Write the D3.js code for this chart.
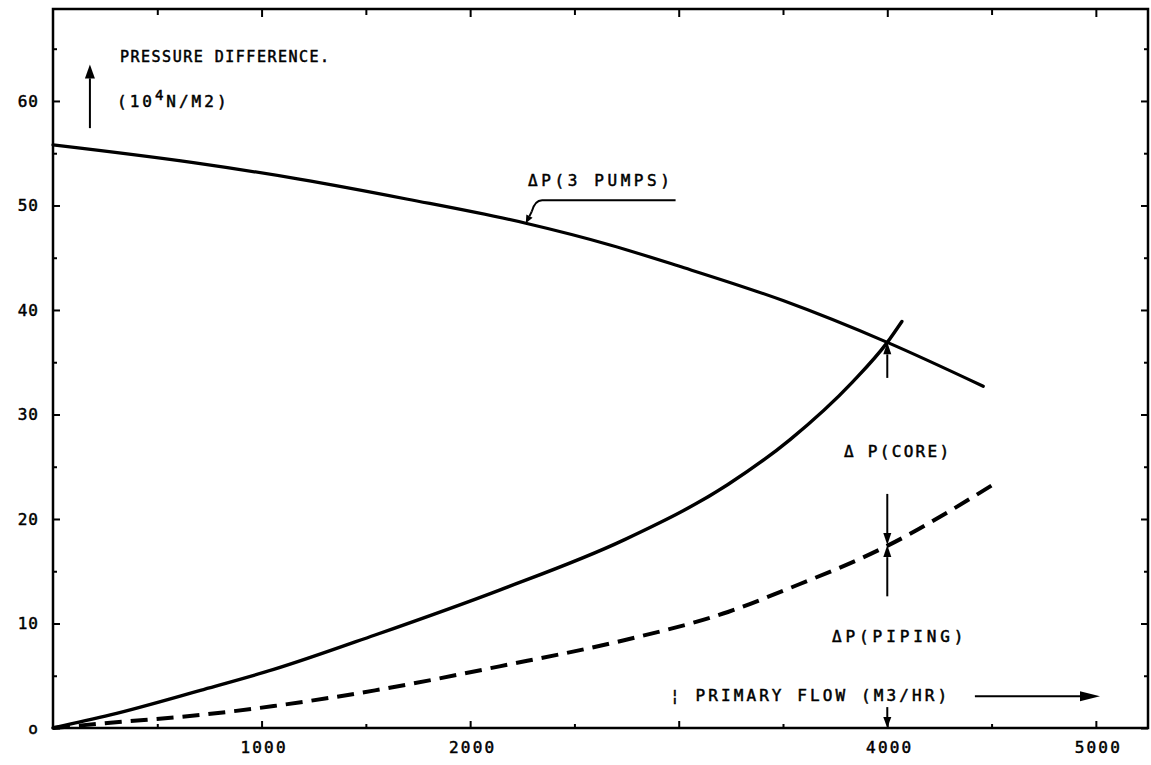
<!DOCTYPE html>
<html>
<head>
<meta charset="utf-8">
<script src="https://cdn.jsdelivr.net/npm/d3@7"></script>
<style>
  body { margin: 0; background: #fff; }
  text { font-family: "DejaVu Sans Mono", monospace; fill: #000; stroke: #000; stroke-width: 0.5; }
</style>
</head>
<body>
<div id="chart"></div>
<script>
// pump head curve (3 pumps)
const flowPump = [0, 673, 1187, 1701, 2267, 2675, 3000, 3500, 4000, 4460];
const dpPump = [55.8, 54.1, 52.5, 50.6, 48.3, 46.2, 44.2, 40.9, 36.9, 32.7];
// core + piping system curve
const flowCore = [0, 275, 707, 1058, 1544, 2141, 2738, 3236, 3534, 3833, 4000, 4070];
const dpCore = [0, 1.25, 3.6, 5.6, 8.9, 13.2, 18.0, 23.3, 27.6, 33.1, 36.9, 38.9];
// piping only (dashed)
const flowPiping = [0, 275, 707, 1058, 1544, 2141, 2738, 3236, 3534, 3992, 4508];
const dpPiping = [0, 0.5, 1.25, 2.1, 3.6, 5.9, 8.4, 11.1, 13.4, 17.35, 23.3];

const xLabelTicks = [1000, 2000, 4000, 5000];
const yLabelTicks = [0, 10, 20, 30, 40, 50, 60];

const W = 1151, H = 765;
const m = { left: 53, right: 1148, top: 9, bottom: 728 };

const svg = d3.select('#chart').append('svg')
  .attr('width', W)
  .attr('height', H);

const x = d3.scaleLinear().domain([0, 5250]).range([m.left, m.right]);
const y = d3.scaleLinear().domain([0, 68.8]).range([m.bottom, m.top]);

const xMajor = d3.range(1000, 5001, 1000);
const xMinor = d3.range(500, 5001, 1000);
const yMajor = d3.range(0, 61, 10);
const yMinor = d3.range(5, 66, 10);

function tickAxis(axisFn, scale, values, size, tr) {
  const g = svg.append('g')
    .attr('transform', tr)
    .call(axisFn(scale).tickValues(values).tickSize(size).tickFormat(''));
  g.select('.domain').remove();
  g.selectAll('line').attr('stroke', '#000').attr('stroke-width', 2);
  return g;
}

// ticks, all pointing inward
tickAxis(d3.axisBottom, x, xMajor, -7, `translate(0,${m.bottom})`);
tickAxis(d3.axisBottom, x, xMinor, -4, `translate(0,${m.bottom})`);
tickAxis(d3.axisTop, x, xMajor, -8, `translate(0,${m.top})`);
tickAxis(d3.axisTop, x, xMinor, -6, `translate(0,${m.top})`);
tickAxis(d3.axisLeft, y, yMajor, -7, `translate(${m.left},0)`);
tickAxis(d3.axisLeft, y, yMinor, -4, `translate(${m.left},0)`);
tickAxis(d3.axisRight, y, yMajor, -7, `translate(${m.right},0)`);
tickAxis(d3.axisRight, y, yMinor, -4, `translate(${m.right},0)`);

// frame
svg.append('rect')
  .attr('x', m.left).attr('y', m.top)
  .attr('width', m.right - m.left).attr('height', m.bottom - m.top)
  .attr('fill', 'none').attr('stroke', '#000').attr('stroke-width', 2.5);

// tick labels
const xl = svg.append('g')
  .attr('transform', `translate(0,${m.bottom})`)
  .call(d3.axisBottom(x).tickValues(xLabelTicks).tickSize(0).tickPadding(14).tickFormat(d3.format('d')));
xl.select('.domain').remove();
xl.selectAll('text').attr('font-size', 16).attr('letter-spacing', 2.2)
  .attr('font-family', 'DejaVu Sans').attr('dx', 2);

const yl = svg.append('g')
  .attr('transform', `translate(${m.left},0)`)
  .call(d3.axisLeft(y).tickValues(yLabelTicks).tickSize(0).tickPadding(14).tickFormat(d => d === 0 ? 'o' : d));
yl.select('.domain').remove();
yl.selectAll('text').attr('font-size', 16).attr('letter-spacing', 1)
  .attr('font-family', 'DejaVu Sans');

// curves
const line = d3.line().curve(d3.curveMonotoneX);

svg.append('path')
  .attr('d', line(flowPump.map((f, i) => [x(f), y(dpPump[i])])))
  .attr('fill', 'none').attr('stroke', '#000').attr('stroke-width', 3.2)
  .attr('stroke-linecap', 'round');

svg.append('path')
  .attr('d', line(flowCore.map((f, i) => [x(f), y(dpCore[i])])))
  .attr('fill', 'none').attr('stroke', '#000').attr('stroke-width', 3.4)
  .attr('stroke-linecap', 'round');

svg.append('path')
  .attr('d', line(flowPiping.map((f, i) => [x(f), y(dpPiping[i])])))
  .attr('fill', 'none').attr('stroke', '#000').attr('stroke-width', 4)
  .attr('stroke-dasharray', '17,9');

// arrows
function arrow(x1, y1, x2, y2, head, width) {
  head = head || 12;
  width = width || 4;
  const dx = x2 - x1, dy = y2 - y1;
  const len = Math.sqrt(dx * dx + dy * dy);
  const ux = dx / len, uy = dy / len;
  const bx = x2 - ux * head, by = y2 - uy * head;
  svg.append('line')
    .attr('x1', x1).attr('y1', y1).attr('x2', bx).attr('y2', by)
    .attr('stroke', '#000').attr('stroke-width', 2);
  svg.append('path')
    .attr('d', `M${x2},${y2}L${bx - uy * width},${by + ux * width}L${bx + uy * width},${by - ux * width}Z`)
    .attr('fill', '#000');
}

// y axis title arrow
arrow(x(177), y(57.4), x(177), y(63.5), 14, 5);

// delta-p arrows at 4000 m3/hr
arrow(x(4000), y(33.5), x(4000), y(36.9), 12, 4);
arrow(x(4000), y(22.4), x(4000), y(17.5), 12, 4);
arrow(x(4000), y(12.6), x(4000), y(17.5), 12, 4);
arrow(x(4000), y(2.0), x(4000), y(0), 11, 4);

// flow arrow
arrow(x(4420), y(3.05), x(5020), y(3.05), 20, 5);

// leader for pump label
svg.append('path')
  .attr('d', `M${x(2985)},${y(50.5)}L${x(2345)},${y(50.5)}Q${x(2310)},${y(50.5)} ${x(2295)},${y(49.4)}`)
  .attr('fill', 'none').attr('stroke', '#000').attr('stroke-width', 2);
arrow(x(2295), y(49.4), x(2267), y(48.3), 8, 3.5);

// labels
function label(tx, ty, str, size, spacing) {
  return svg.append('text')
    .attr('x', tx).attr('y', ty)
    .attr('font-size', size)
    .attr('letter-spacing', spacing)
    .text(str);
}

label(120, 62, 'PRESSURE DIFFERENCE.', 15, 1.5);
const unit = label(117, 107, '(10', 16, 3)
  .attr('font-family', 'DejaVu Sans');
unit.append('tspan').attr('dy', -7).attr('font-size', 14).text('4');
unit.append('tspan').attr('dy', 7).text('N/M2)');

label(528, 186, 'ΔP(3 PUMPS)', 16, 3.6);
label(844, 457, 'Δ P(CORE)', 16, 2.3);
label(832, 642, 'ΔP(PIPING)', 16, 3.9);
label(670, 701, '¦ PRIMARY FLOW (M3/HR)', 16, 3.1);
</script>
</body>
</html>
